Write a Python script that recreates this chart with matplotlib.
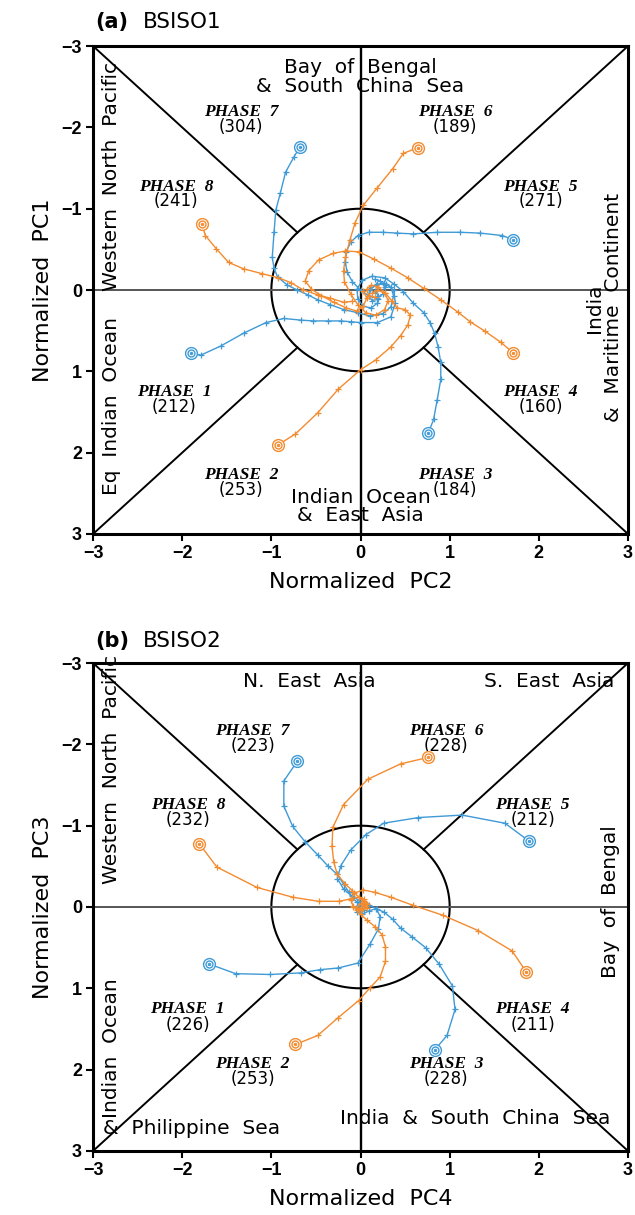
import numpy as np
import matplotlib
matplotlib.use('Agg')
from matplotlib import pyplot as plt

blue = '#3f9ad6'
orange = '#f38b2f'

# ---- panel (a) BSISO1 : (PC2, PC1) points, first point = start
a_blue_p7 = [(-0.68, -1.76), (-0.75, -1.63), (-0.84, -1.45), (-0.90, -1.19), (-0.95, -0.98),
             (-0.97, -0.71), (-0.99, -0.40), (-0.97, -0.27), (-0.93, -0.16), (-0.82, -0.06),
             (-0.71, 0.00), (-0.59, 0.06), (-0.48, 0.12), (-0.34, 0.18), (-0.19, 0.24),
             (-0.03, 0.28), (0.11, 0.32), (0.25, 0.29), (0.34, 0.21), (0.37, 0.07),
             (0.34, -0.04), (0.26, -0.09), (0.17, -0.06), (0.09, 0.00)]
a_blue_p5 = [(1.71, -0.62), (1.59, -0.67), (1.34, -0.70), (1.12, -0.71), (0.86, -0.71),
             (0.59, -0.69), (0.41, -0.70), (0.25, -0.71), (0.09, -0.71), (-0.03, -0.67),
             (-0.11, -0.59), (-0.16, -0.47), (-0.17, -0.34), (-0.15, -0.22), (-0.09, -0.10),
             (0.00, 0.00), (0.09, 0.07), (0.18, 0.10), (0.25, 0.05), (0.27, -0.04),
             (0.22, -0.11), (0.16, -0.13)]
a_blue_p3 = [(0.76, 1.76), (0.82, 1.59), (0.86, 1.35), (0.90, 1.10), (0.90, 0.89),
             (0.87, 0.70), (0.83, 0.53), (0.78, 0.40), (0.71, 0.28), (0.59, 0.16),
             (0.48, 0.02), (0.38, -0.07), (0.27, -0.15), (0.13, -0.17), (0.02, -0.12),
             (-0.04, -0.01), (-0.03, 0.11), (0.03, 0.20), (0.12, 0.22), (0.19, 0.16),
             (0.20, 0.07), (0.16, 0.01)]
a_blue_p1 = [(-1.90, 0.78), (-1.79, 0.80), (-1.57, 0.69), (-1.31, 0.53), (-1.06, 0.40),
             (-0.86, 0.35), (-0.67, 0.37), (-0.53, 0.38), (-0.37, 0.38), (-0.22, 0.38),
             (-0.11, 0.39), (0.00, 0.40), (0.19, 0.40), (0.34, 0.33), (0.39, 0.16),
             (0.37, 0.00), (0.29, -0.07), (0.19, -0.07), (0.11, -0.01), (0.09, 0.07),
             (0.13, 0.13), (0.20, 0.11)]
a_orange_p8 = [(-1.78, -0.81), (-1.74, -0.67), (-1.62, -0.51), (-1.48, -0.34), (-1.31, -0.26),
               (-1.10, -0.20), (-0.92, -0.15), (-0.78, -0.09), (-0.64, 0.00), (-0.48, 0.06),
               (-0.34, 0.10), (-0.19, 0.15), (-0.10, 0.14)]
a_orange_p6 = [(0.64, -1.75), (0.48, -1.68), (0.36, -1.49), (0.19, -1.26), (0.03, -1.04),
               (-0.06, -0.83), (-0.12, -0.61), (-0.17, -0.40), (-0.19, -0.24), (-0.18, -0.10),
               (-0.11, 0.05), (-0.03, 0.18), (0.06, 0.28), (0.17, 0.31), (0.27, 0.24),
               (0.31, 0.13), (0.27, 0.04), (0.19, 0.00), (0.13, 0.04)]
a_orange_p4 = [(1.71, 0.77), (1.57, 0.64), (1.40, 0.51), (1.23, 0.39), (1.09, 0.27),
               (0.90, 0.12), (0.71, -0.02), (0.53, -0.15), (0.34, -0.27), (0.15, -0.38),
               (-0.02, -0.47), (-0.17, -0.48), (-0.31, -0.45), (-0.47, -0.37), (-0.58, -0.24),
               (-0.62, -0.11), (-0.55, -0.01), (-0.44, 0.07), (-0.30, 0.15), (-0.16, 0.22),
               (-0.04, 0.26), (0.03, 0.20), (0.07, 0.10), (0.03, 0.01)]
a_orange_p2 = [(-0.92, 1.90), (-0.73, 1.77), (-0.48, 1.51), (-0.25, 1.22), (0.00, 0.98),
               (0.17, 0.86), (0.34, 0.70), (0.45, 0.56), (0.53, 0.43), (0.56, 0.31),
               (0.50, 0.24), (0.41, 0.22), (0.35, 0.13), (0.28, 0.04), (0.20, -0.04),
               (0.12, -0.06), (0.07, -0.01), (0.09, 0.07), (0.16, 0.09)]

# ---- panel (b) BSISO2 : (PC4, PC3) points
b_blue_p7 = [(-0.71, -1.79), (-0.86, -1.55), (-0.86, -1.24), (-0.76, -0.99), (-0.62, -0.80),
             (-0.48, -0.64), (-0.37, -0.51), (-0.26, -0.40), (-0.19, -0.28), (-0.13, -0.18),
             (-0.09, -0.11), (-0.04, -0.06), (0.00, -0.02), (0.03, 0.00), (0.01, 0.04),
             (-0.03, 0.02)]
b_blue_p5 = [(1.89, -0.81), (1.62, -1.03), (1.14, -1.13), (0.65, -1.10), (0.26, -1.03),
             (0.06, -0.89), (-0.11, -0.70), (-0.22, -0.51), (-0.26, -0.35), (-0.19, -0.22),
             (-0.09, -0.13), (0.00, -0.07), (0.07, -0.02), (0.04, 0.04), (-0.01, 0.05)]
b_blue_p3 = [(0.83, 1.76), (0.97, 1.58), (1.06, 1.26), (1.03, 0.97), (0.88, 0.70),
             (0.73, 0.50), (0.58, 0.37), (0.45, 0.26), (0.36, 0.15), (0.26, 0.06),
             (0.17, 0.02), (0.09, 0.05), (0.02, 0.09), (-0.04, 0.06), (-0.04, -0.01)]
b_blue_p1 = [(-1.70, 0.70), (-1.40, 0.82), (-1.01, 0.83), (-0.67, 0.81), (-0.45, 0.77),
             (-0.25, 0.75), (-0.03, 0.69), (0.11, 0.45), (0.20, 0.27), (0.22, 0.12),
             (0.18, 0.02), (0.10, -0.02), (0.02, -0.02), (-0.02, 0.02)]
b_orange_p8 = [(-1.81, -0.78), (-1.61, -0.49), (-1.16, -0.24), (-0.76, -0.12), (-0.47, -0.07),
               (-0.24, -0.07), (-0.11, -0.10), (-0.02, -0.12), (0.04, -0.10), (0.07, -0.04),
               (0.02, 0.02), (-0.04, 0.04), (-0.08, -0.01)]
b_orange_p6 = [(0.76, -1.84), (0.45, -1.76), (0.08, -1.57), (-0.19, -1.26), (-0.31, -0.98),
               (-0.32, -0.75), (-0.30, -0.55), (-0.26, -0.40), (-0.17, -0.28), (-0.09, -0.20),
               (-0.02, -0.12), (0.03, -0.06), (0.02, 0.00), (-0.02, 0.04)]
b_orange_p4 = [(1.86, 0.80), (1.70, 0.54), (1.32, 0.29), (0.92, 0.10), (0.59, -0.02),
               (0.34, -0.12), (0.16, -0.18), (0.03, -0.21), (-0.07, -0.17), (-0.11, -0.09),
               (-0.08, 0.00), (0.00, 0.04), (0.07, 0.01), (0.06, -0.05)]
b_orange_p2 = [(-0.73, 1.69), (-0.48, 1.58), (-0.25, 1.36), (-0.02, 1.15), (0.11, 0.99),
               (0.22, 0.86), (0.28, 0.67), (0.28, 0.49), (0.24, 0.34), (0.16, 0.24),
               (0.07, 0.16), (0.00, 0.09), (-0.04, 0.01), (0.00, -0.04), (0.06, -0.01)]

phases = [1, 2, 3, 4, 5, 6, 7, 8]
counts_a = [212, 253, 184, 160, 271, 189, 304, 241]
counts_b = [226, 253, 228, 211, 212, 228, 223, 232]

# label layout (x, y of "PHASE n", y of count)
phase_pos_a = [(-2.09, 1.26, 1.44), (-1.34, 2.28, 2.46), (1.06, 2.28, 2.46), (2.02, 1.26, 1.44),
               (2.02, -1.27, -1.09), (1.06, -2.19, -2.0), (-1.34, -2.19, -2.0), (-2.07, -1.27, -1.09)]
phase_pos_b = [(-1.94, 1.26, 1.45), (-1.21, 1.93, 2.11), (0.96, 1.93, 2.11), (1.93, 1.26, 1.45),
               (1.93, -1.25, -1.07), (0.96, -2.16, -1.98), (-1.21, -2.16, -1.98), (-1.93, -1.25, -1.07)]

fig = plt.figure(figsize=(6.35, 12.15), dpi=100)
ax1 = fig.add_axes([0.1465, 0.5605, 0.8425, 0.4016])
ax2 = fig.add_axes([0.1465, 0.0527, 0.8425, 0.4016])


def draw_frame(ax):
    r = np.sqrt(0.5)
    for sx in (-1, 1):
        for sy in (-1, 1):
            ax.plot([3 * sx, r * sx], [3 * sy, r * sy], color='k', lw=1.4, zorder=2)
    t = np.linspace(0, 2 * np.pi, 300)
    ax.plot(np.cos(t), np.sin(t), color='k', lw=1.5, zorder=2)
    ax.axhline(0, color='#555555', lw=1.4, zorder=2)
    ax.axvline(0, color='k', lw=1.7, zorder=2)
    ax.set_xlim(-3, 3)
    ax.set_ylim(3, -3)
    ax.set_xticks(range(-3, 4))
    ax.set_yticks(range(-3, 4))
    for s in ax.spines.values():
        s.set_linewidth(2.2)
    ax.tick_params(direction='out', length=5, width=1.5, labelsize=13, pad=3)
    for lab in ax.get_xticklabels() + ax.get_yticklabels():
        lab.set_fontweight('bold')
        lab.set_fontfamily('Liberation Sans')


def draw_track(ax, pts, color):
    x = [p[0] for p in pts]
    y = [p[1] for p in pts]
    ax.plot(x, y, color=color, lw=1.0, marker='+', ms=5, mew=0.9, zorder=4)
    ax.plot(x[0], y[0], 'o', ms=8.5, mfc='white', mec=color, mew=1.0, zorder=5)
    ax.plot(x[0], y[0], 'o', ms=5, mfc='none', mec=color, mew=1.0, zorder=6)
    ax.plot(x[0], y[0], 'o', ms=2, mfc=color, mec=color, mew=0.5, zorder=6)


def draw_phases(ax, counts, pos):
    for ph, n, (px, py, cy) in zip(phases, counts, pos):
        ax.text(px, py, 'PHASE  %d' % ph, family='Liberation Serif', style='italic',
                weight='bold', fontsize=12.5, ha='center', va='center', zorder=3)
        ax.text(px, cy, '(%d)' % n, fontsize=12, ha='center', va='center', zorder=3)


rfs = 14.5
lfs = 16

# panel a
draw_frame(ax1)
for pts in (a_blue_p7, a_blue_p5, a_blue_p3, a_blue_p1):
    draw_track(ax1, pts, blue)
for pts in (a_orange_p8, a_orange_p6, a_orange_p4, a_orange_p2):
    draw_track(ax1, pts, orange)
draw_phases(ax1, counts_a, phase_pos_a)
ax1.text(0, -2.62, 'Bay  of  Bengal\n&  South  China  Sea', fontsize=rfs, ha='center',
         va='center', linespacing=0.95)
ax1.text(0, 2.66, 'Indian  Ocean\n&  East  Asia', fontsize=rfs, ha='center', va='center',
         linespacing=0.95)
ax1.text(-2.79, -1.40, 'Western  North  Pacific', fontsize=rfs, rotation=90, ha='center',
         va='center')
ax1.text(-2.79, 1.42, 'Eq  Indian  Ocean', fontsize=rfs, rotation=90, ha='center', va='center')
ax1.text(2.73, 0.22, 'India\n&  Maritime  Continent', fontsize=rfs, rotation=90, ha='center',
         va='center', linespacing=0.95)
ax1.set_xlabel('Normalized  PC2', fontsize=lfs, labelpad=7)
ax1.set_ylabel('Normalized  PC1', fontsize=lfs, labelpad=6)

# panel b
draw_frame(ax2)
for pts in (b_blue_p7, b_blue_p5, b_blue_p3, b_blue_p1):
    draw_track(ax2, pts, blue)
for pts in (b_orange_p8, b_orange_p6, b_orange_p4, b_orange_p2):
    draw_track(ax2, pts, orange)
draw_phases(ax2, counts_b, phase_pos_b)
ax2.text(-0.57, -2.77, 'N.  East  Asia', fontsize=rfs, ha='center', va='center')
ax2.text(2.12, -2.77, 'S.  East  Asia', fontsize=rfs, ha='center', va='center')
ax2.text(1.29, 2.6, 'India  &  South  China  Sea', fontsize=rfs, ha='center', va='center')
ax2.text(-2.89, 2.72, '&  Philippine  Sea', fontsize=rfs, ha='left', va='center')
ax2.text(-2.79, -1.69, 'Western  North  Pacific', fontsize=rfs, rotation=90, ha='center',
         va='center')
ax2.text(-2.79, 1.74, 'Indian  Ocean', fontsize=rfs, rotation=90, ha='center', va='center')
ax2.text(2.8, -0.06, 'Bay  of  Bengal', fontsize=rfs, rotation=90, ha='center', va='center')
ax2.set_xlabel('Normalized  PC4', fontsize=lfs, labelpad=7)
ax2.set_ylabel('Normalized  PC3', fontsize=lfs, labelpad=6)

# panel titles
fig.text(95 / 635, 1 - 22 / 1215, '(a)', fontsize=15, weight='bold', va='center')
fig.text(143 / 635, 1 - 22 / 1215, 'BSISO1', fontsize=15.5, va='center')
fig.text(95 / 635, 1 - 641 / 1215, '(b)', fontsize=15, weight='bold', va='center')
fig.text(143 / 635, 1 - 641 / 1215, 'BSISO2', fontsize=15.5, va='center')

fig.savefig('out.png', dpi=100)
